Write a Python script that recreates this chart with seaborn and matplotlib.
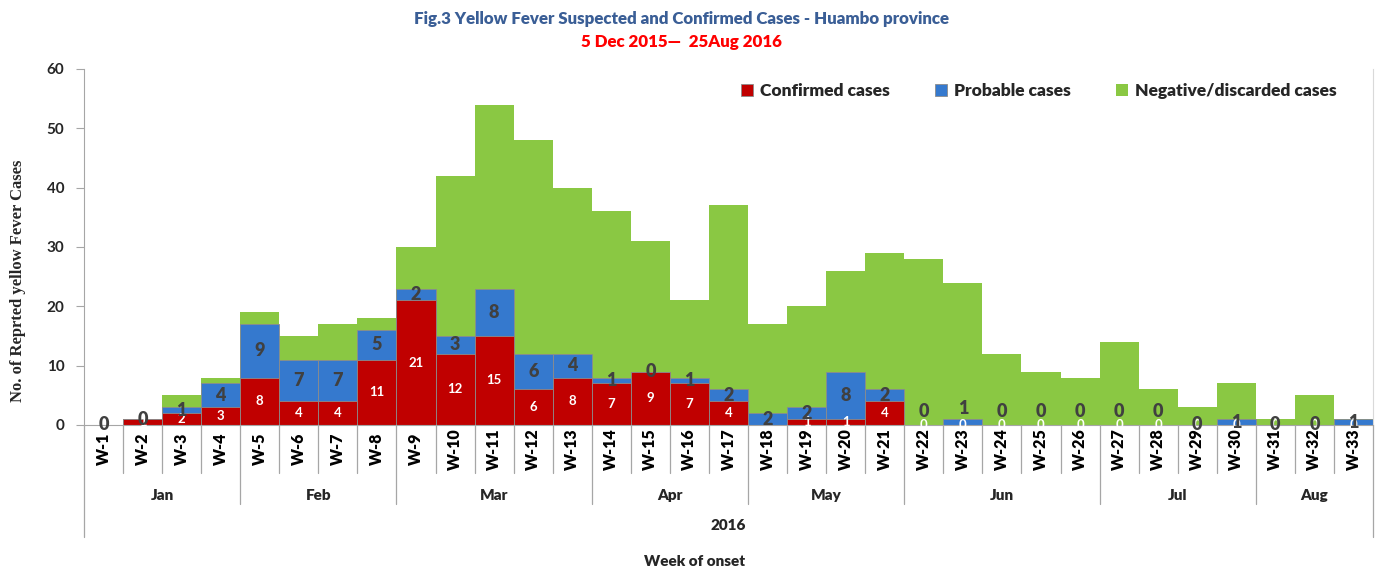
import matplotlib
matplotlib.use("Agg")
import numpy as np
import pandas as pd
import matplotlib.pyplot as plt
import seaborn as sns

# data
weeks = ["W-%d" % i for i in range(1, 34)]
confirmed = [0, 1, 2, 3, 8, 4, 4, 11, 21, 12, 15, 6, 8, 7, 9, 7, 4,
             0, 1, 1, 4, 0, 0, 0, 0, 0, 0, 0, 0, 0, 0, 0, 0]
probable = [0, 0, 1, 4, 9, 7, 7, 5, 2, 3, 8, 6, 4, 1, 0, 1, 2,
            2, 2, 8, 2, 0, 1, 0, 0, 0, 0, 0, 0, 1, 0, 0, 1]
negative = [0, 0, 2, 1, 2, 4, 6, 2, 7, 27, 31, 36, 28, 28, 22, 13, 31,
            15, 17, 17, 23, 28, 23, 12, 9, 8, 14, 6, 3, 6, 1, 5, 0]
months = ["Jan", "Feb", "Mar", "Apr", "May", "Jun", "Jul", "Aug"]
weeks_per_month = [4, 4, 5, 4, 4, 5, 4, 3]

df = pd.DataFrame({"week": weeks, "confirmed": confirmed,
                   "probable": probable, "negative": negative})
df["red_top"] = df["confirmed"]
df["blue_top"] = df["confirmed"] + df["probable"]
df["total"] = df["blue_top"] + df["negative"]

RED = "#C00000"
BLUE = "#3579CE"
GREEN = "#8AC843"
FONT = ["Lato", "DejaVu Sans"]

sns.set_style("white")
plt.rcParams["font.family"] = FONT

W, H = 1375, 569
fig = plt.figure(figsize=(W / 100, H / 100), dpi=100)
ax_left, ax_right, ax_top, ax_bot = 84, 1373, 69, 425
ax = fig.add_axes([ax_left / W, 1 - ax_bot / H, (ax_right - ax_left) / W, (ax_bot - ax_top) / H])

# stacked bars: draw cumulative totals back to front
sns.barplot(data=df, x="week", y="total", color=GREEN, saturation=1, width=1,
            linewidth=0, ax=ax, label="Negative/discarded cases")
sns.barplot(data=df, x="week", y="blue_top", color=BLUE, saturation=1, width=1,
            edgecolor="#8c8c8c", linewidth=0.6, ax=ax, label="Probable cases")
sns.barplot(data=df, x="week", y="red_top", color=RED, saturation=1, width=1,
            edgecolor="#8c8c8c", linewidth=0.6, ax=ax, label="Confirmed cases")

ax.set_xlim(-0.5, len(weeks) - 0.5)
ax.set_ylim(0, 60)
ax.set_yticks(range(0, 61, 10))
ax.tick_params(axis="y", direction="out", length=6, width=0.8, color="#a6a6a6",
               labelsize=11, pad=8, left=True)
for t in ax.get_yticklabels():
    t.set_fontweight("bold")
ax.set_xticks([])
ax.set_xlabel("")
ax.set_ylabel("")
ax.spines["top"].set_visible(False)
ax.spines["left"].set_color("#a6a6a6")
ax.spines["bottom"].set_color("#a6a6a6")
ax.spines["right"].set_color("#d9d9d9")
for s in ["left", "bottom", "right"]:
    ax.spines[s].set_linewidth(0.8)

# value labels
for i, row in df.iterrows():
    c, p = row["confirmed"], row["probable"]
    if c > 0:
        ax.text(i, c / 2, str(c), ha="center", va="center", color="white",
                fontsize=9.5, fontweight="bold", zorder=5)
    elif i >= 21:
        ax.text(i, 0, "0", ha="center", va="center", color="white",
                fontsize=9.5, fontweight="bold", zorder=5)
    y = c + p / 2
    if 21 <= i <= 27:
        y += 2.3
    ax.text(i, y, str(p), ha="center", va="center", color="#404040",
            fontsize=13, fontweight="heavy", zorder=6)

# category axis drawn as a table below the plot
trans = ax.get_xaxis_transform()
hpx = ax_bot - ax_top
def below(px):
    return -(px - ax_bot) / hpx

line_kw = dict(transform=trans, clip_on=False, color="#a6a6a6", lw=0.9)
bounds = np.cumsum([0] + weeks_per_month) - 0.5
for i in range(1, len(weeks)):
    x = i - 0.5
    if x in bounds:
        ax.plot([x, x], [0, below(504)], **line_kw)
    else:
        ax.plot([x, x], [0, below(473)], **line_kw)
for x in [-0.5, len(weeks) - 0.5]:
    ax.plot([x, x], [0, below(537)], **line_kw)

for i, w in enumerate(weeks):
    ax.text(i, below(449), w, transform=trans, rotation=90, ha="center", va="center",
            fontsize=11.5, fontweight="heavy", color="#000000")
for m, a, b in zip(months, bounds[:-1], bounds[1:]):
    ax.text((a + b) / 2, below(495), m, transform=trans, ha="center", va="center",
            fontsize=11, fontweight="heavy")
ax.text((len(weeks) - 1) / 2, below(525), "2016", transform=trans, ha="center",
        va="center", fontsize=11, fontweight="heavy")

fig.text(695 / W, 1 - 561 / H, "Week of onset", ha="center", va="center",
         fontsize=11, fontweight="heavy")
fig.text(18 / W, 1 - 281 / H, "No. of Reprted yellow Fever Cases", rotation=90,
         ha="center", va="center", fontsize=12, fontweight="bold",
         family=["Liberation Serif", "DejaVu Serif"])

# titles
fig.text(681 / W, 1 - 19 / H, "Fig.3 Yellow Fever Suspected and Confirmed Cases - Huambo province",
         ha="center", va="center", fontsize=12.2, fontweight="heavy", color="#3A5E96")
fig.text(681 / W, 1 - 42 / H, "5 Dec 2015\u2014  25Aug 2016", ha="center", va="center",
         fontsize=12.2, fontweight="heavy", color="#FF0000")

# legend
handles, labels = ax.get_legend_handles_labels()
order = [labels.index(l) for l in ["Confirmed cases", "Probable cases", "Negative/discarded cases"]]
leg = ax.legend([handles[k] for k in order], [labels[k] for k in order],
                loc="upper left", bbox_to_anchor=((741 - ax_left) / (ax_right - ax_left), (ax_bot - 83) / hpx),
                ncol=3, frameon=False, borderaxespad=0, borderpad=0,
                handlelength=0.7, handleheight=0.7, handletextpad=0.4,
                columnspacing=2.6, prop={"size": 12.5, "weight": "heavy", "family": FONT})

fig.savefig("out.png", dpi=100)
